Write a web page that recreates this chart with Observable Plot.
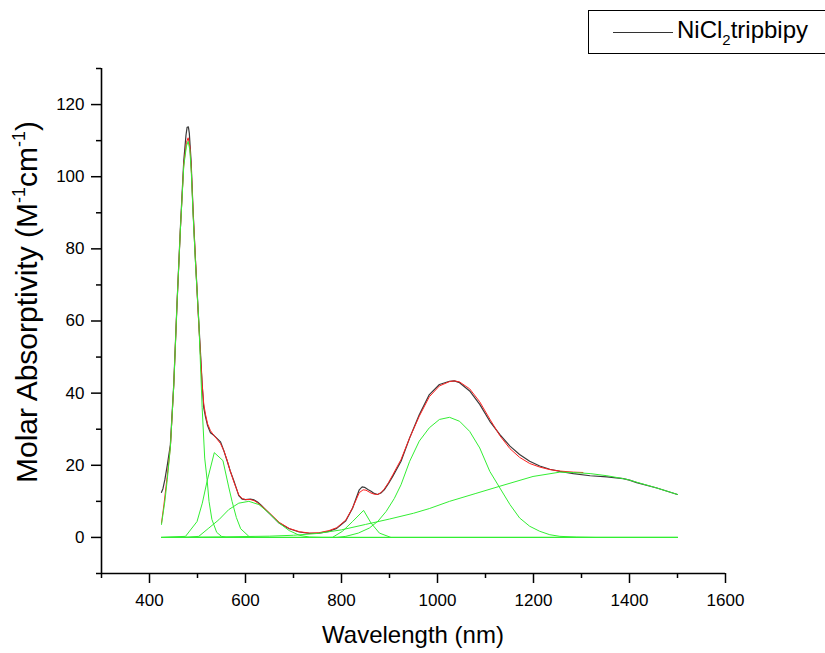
<!DOCTYPE html>
<html>
<head>
<meta charset="utf-8">
<script src="https://cdn.jsdelivr.net/npm/d3@7"></script>
<script src="https://cdn.jsdelivr.net/npm/@observablehq/plot@0.6"></script>
<style>
  html, body { margin: 0; padding: 0; background: #fff; overflow: hidden; }
  body { font-family: "Liberation Sans", Arial, sans-serif; }
  #wrap { position: relative; width: 825px; height: 653px; }
  #legend { position: absolute; left: 588px; top: 10px; width: 260px; height: 42px; border: 1px solid #000; background: #fff; }
  #legend .swatch { position: absolute; left: 24px; top: 21px; width: 60px; height: 1px; background: #333; }
  #legend .label { position: absolute; left: 88px; top: 5px; font-size: 24px; line-height: 28px; color: #000; white-space: nowrap; }
  #legend sub { font-size: 15px; vertical-align: -7px; line-height: 0; }
</style>
</head>
<body>
<div id="wrap">
  <div id="chart"></div>
  <div id="legend"><div class="swatch"></div><div class="label">NiCl<sub>2</sub>tripbipy</div></div>
</div>
<script>
// Tick values
const xMajor = [400, 600, 800, 1000, 1200, 1400, 1600];
const xMinor = [300, 500, 700, 900, 1100, 1300, 1500];
const yMajor = [0, 20, 40, 60, 80, 100, 120];
const yMinor = [-10, 10, 30, 50, 70, 90, 110, 130];

// Measured spectrum [wavelength nm, molar absorptivity]
const measured = [
  [425,12.5],[428,13.5],[432,16],[437,20],[443.5,25.7],[450.5,42.4],[457.4,65],[464.4,85.9],
  [471.4,104.4],[476,111.5],[478.3,113.7],[481,113.8],[483,112],[486.6,104.4],[490.8,90.5],
  [495.8,76.7],[501.3,63],[506,51.7],[509.7,42.4],[513,36],[516.6,33.5],[521,31],[527,29],
  [534,28.3],[541,27.4],[548,26.5],[555,24],[561.8,21.2],[568,18.5],[576,15.6],[586,11.6],
  [593,10.6],[600,10.5],[610,10.6],[618,10.4],[625,9.8],[632,9],[649,6.75],[670,4],[691,2.4],
  [712,1.5],[733,1.1],[753,1.2],[774,1.7],[790,2.5],[809,4.6],[823,8.1],[837,13.2],[843,14],
  [848,13.9],[855,13.3],[861.5,12.8],[868,12.2],[875,11.9],[882,12.3],[889,13.2],[898,15],
  [907,17],[924,21.1],[942,27.6],[962,34],[983,39.6],[1004,42.4],[1025,43.3],[1035,43.4],
  [1046,42.9],[1067,40.6],[1088,36.9],[1109,32.2],[1130,28.5],[1151,25.3],[1171,23],
  [1192,21.1],[1213,19.8],[1234,18.9],[1255,18.3],[1283,17.7],[1318,17.1],[1353,16.8],
  [1387,16.3],[1400,15.9],[1415,15.2],[1457,13.7],[1500,11.9]
];

// Cumulative fit
const fit = [
  [425,4],[430,9],[436.5,16.5],[443.5,25],[450.5,42],[457.4,65],[464.4,85.5],[471.4,103.5],
  [477,109.5],[480.5,110.8],[484,108.5],[487,102.5],[491,90],[496,76.5],[501.3,62.5],[506,51],
  [510,42],[513,37],[516.6,34.2],[521,31.5],[527,29.6],[534,28.3],[541,27.2],[548,26],[555,24],
  [562,21.3],[568,18.5],[576,15.3],[586,11.8],[593,10.8],[600,10.5],[610,10.5],[618,10.2],
  [625,9.6],[632,8.9],[649,6.9],[670,4.2],[691,2.5],[712,1.6],[733,1.2],[753,1.3],[774,1.9],
  [790,2.7],[809,4.8],[823,8.2],[837,12.4],[845,13.2],[851,13.1],[861.5,12.3],[868,12],
  [875,11.9],[882,12.4],[889,13.4],[898,15.2],[907,17.4],[924,21.6],[942,27.6],[962,33.6],
  [983,39],[1004,42],[1025,43.2],[1035,43.4],[1046,43.1],[1067,41.2],[1088,37.6],[1109,32.8],
  [1130,28.2],[1151,24.6],[1171,22.2],[1192,20.5],[1213,19.5],[1234,18.8],[1255,18.4],
  [1283,18.1],[1303,18]
];

// Fitted component bands
const band1 = [
  [425,3.6],[432,10],[437,16],[443.5,25],[450.5,42],[457.4,65],[464.4,85.5],[471.4,103],
  [477,108.5],[480.5,109.8],[484,107.5],[487,101.5],[491,89],[496,75.5],[502.7,60],[509.7,36],
  [515,22],[520,16],[524,10],[530,5],[540,1.4],[550,0.3],[560,0],[1500,0]
];
const band2 = [
  [425,0],[475,0.3],[499,4.4],[510,9.5],[520,15.6],[535,23.5],[553,21.3],[565,14],[572,10],
  [581,5.5],[590,2.4],[607,0.3],[620,0],[1500,0]
];
const band3 = [
  [425,0],[480,0.05],[502.7,0.3],[523.6,2.6],[544.5,4.9],[565,7.7],[586,9.5],[607,10],
  [628,9.1],[649,6.75],[670,4],[691,1.9],[712,0.6],[733,0.1],[760,0],[1500,0]
];
const band4 = [
  [425,0],[781,0],[802,1.7],[823,4.4],[846,7.5],[861.5,4],[879,1.2],[903,0],[1500,0]
];
const band5 = [
  [425,0],[790,0],[809,0.3],[835,1.2],[858,2.6],[876,4.5],[893,7.2],[910,10.8],[924,14.6],
  [942,21.1],[962,26.7],[983,30.4],[1004,32.7],[1025,33.3],[1046,32.2],[1067,29.4],[1088,24.8],
  [1109,18.3],[1130,13.7],[1151,9.1],[1171,5.4],[1192,3.1],[1213,1.7],[1234,0.75],[1255,0.3],
  [1290,0.1],[1330,0],[1500,0]
];
const band6 = [
  [425,0],[550,0.15],[650,0.35],[700,0.6],[750,1.1],[800,2.1],[850,3.6],[900,5.1],[950,6.7],
  [983,8],[1025,10],[1080,12.2],[1130,14.2],[1199,16.9],[1255,18.1],[1283,18],[1318,17.7],
  [1353,17.1],[1387,16.3],[1400,15.9],[1415,15.3],[1457,13.7],[1500,11.9]
];
const bands = [band1, band2, band3, band4, band5, band6];

const px = d => d[0], py = d => d[1];
const plain = d => String(d);

const plot = Plot.plot({
  width: 825,
  height: 653,
  marginLeft: 101,
  marginRight: 100,
  marginTop: 68,
  marginBottom: 80,
  x: {domain: [300, 1600]},
  y: {domain: [-10, 130]},
  style: {fontFamily: "'Liberation Sans', Arial, sans-serif", background: "#fff", color: "#000"},
  marks: [
    Plot.axisX(xMajor, {tickSize: 10, tickPadding: 10, fontSize: 17, tickFormat: plain, label: null, strokeWidth: 1.5}),
    Plot.axisX(xMinor, {tickSize: 5, text: null, label: null, strokeWidth: 1.5}),
    Plot.axisY(yMajor, {tickSize: 10, tickPadding: 7, fontSize: 17, tickFormat: plain, label: null, strokeWidth: 1.5}),
    Plot.axisY(yMinor, {tickSize: 5, text: null, label: null, strokeWidth: 1.5}),
    Plot.ruleY([-10], {stroke: "#000", strokeWidth: 1.6}),
    Plot.ruleX([300], {stroke: "#000", strokeWidth: 1.6}),
    Plot.line(measured, {x: px, y: py, stroke: "#3a3a3a", strokeWidth: 1.2}),
    Plot.line(fit, {x: px, y: py, stroke: "#ff2020", strokeWidth: 1}),
    ...bands.map(b => Plot.line(b, {x: px, y: py, stroke: "#33ee33", strokeWidth: 1}))
  ]
});

document.getElementById("chart").appendChild(plot);

const svg = d3.select(plot);
// x axis title
svg.append("text")
  .attr("x", 413).attr("y", 643)
  .attr("text-anchor", "middle")
  .attr("font-size", 24)
  .attr("fill", "#000")
  .text("Wavelength (nm)");

// y axis title with superscripts
const yt = svg.append("text")
  .attr("transform", "translate(37,302) rotate(-90)")
  .attr("text-anchor", "middle")
  .attr("font-size", 30)
  .attr("fill", "#000");
yt.append("tspan").text("Molar Absorptivity (M");
yt.append("tspan").attr("font-size", 18).attr("dy", -12).text("-1");
yt.append("tspan").attr("dy", 12).text("cm");
yt.append("tspan").attr("font-size", 18).attr("dy", -12).text("-1");
yt.append("tspan").attr("dy", 12).text(")");
</script>
</body>
</html>
